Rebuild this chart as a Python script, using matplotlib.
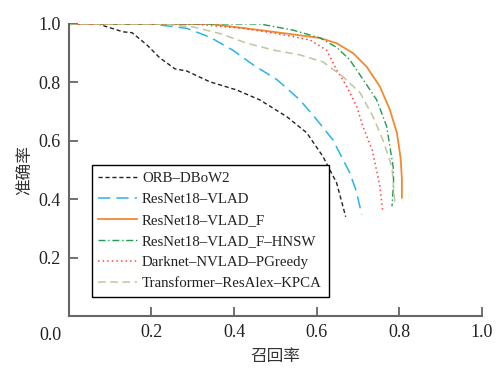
import matplotlib.pyplot as plt

plt.rcParams['font.family'] = ['Liberation Serif', 'Noto Sans CJK SC']

# recall (x) / precision (y)
orb_x = [0.0, 0.07, 0.131, 0.153, 0.189, 0.220, 0.257, 0.285, 0.341, 0.406, 0.462, 0.527, 0.576, 0.615, 0.648, 0.670]
orb_y = [1.0, 1.0, 0.973, 0.970, 0.928, 0.884, 0.846, 0.839, 0.802, 0.774, 0.740, 0.683, 0.627, 0.546, 0.456, 0.340]

vlad_x = [0.0, 0.20, 0.285, 0.341, 0.397, 0.446, 0.504, 0.559, 0.600, 0.639, 0.680, 0.695, 0.709]
vlad_y = [1.0, 1.0, 0.985, 0.955, 0.910, 0.860, 0.809, 0.740, 0.672, 0.603, 0.490, 0.430, 0.347]

vladf_x = [0.0, 0.341, 0.462, 0.608, 0.648, 0.688, 0.721, 0.753, 0.777, 0.794, 0.803, 0.806, 0.806]
vladf_y = [1.0, 1.0, 0.979, 0.952, 0.934, 0.900, 0.853, 0.785, 0.706, 0.627, 0.540, 0.470, 0.405]

hnsw_x = [0.0, 0.462, 0.542, 0.608, 0.648, 0.680, 0.712, 0.745, 0.769, 0.785, 0.786, 0.782]
hnsw_y = [1.0, 1.0, 0.979, 0.952, 0.920, 0.877, 0.810, 0.740, 0.650, 0.510, 0.456, 0.376]

dark_x = [0.0, 0.30, 0.421, 0.504, 0.584, 0.624, 0.648, 0.673, 0.697, 0.712, 0.734, 0.748, 0.753, 0.760]
dark_y = [1.0, 1.0, 0.985, 0.967, 0.945, 0.910, 0.843, 0.785, 0.716, 0.648, 0.569, 0.477, 0.440, 0.357]

kpca_x = [0.0, 0.22, 0.30, 0.366, 0.431, 0.494, 0.559, 0.615, 0.663, 0.705, 0.736, 0.760, 0.782, 0.789]
kpca_y = [1.0, 1.0, 0.99, 0.967, 0.934, 0.911, 0.894, 0.870, 0.820, 0.764, 0.683, 0.603, 0.510, 0.387]

labels = ['ORB\u2013DBoW2', 'ResNet18\u2013VLAD', 'ResNet18\u2013VLAD_F',
          'ResNet18\u2013VLAD_F\u2013HNSW', 'Darknet\u2013NVLAD\u2013PGreedy',
          'Transformer\u2013ResAlex\u2013KPCA']
ticks = [0.2, 0.4, 0.6, 0.8, 1.0]

fig = plt.figure(figsize=(4.99, 3.74), dpi=100)
ax = fig.add_axes([0.138, 0.155, 0.828, 0.781])

ax.plot(orb_x, orb_y, color='#222222', lw=1.0, ls=(0, (3, 2)), label=labels[0])
ax.plot(vlad_x, vlad_y, color='#29b3ee', lw=1.1, ls=(0, (8, 4)), label=labels[1])
ax.plot(vladf_x, vladf_y, color='#f28a2e', lw=1.3, ls='-', label=labels[2])
ax.plot(hnsw_x, hnsw_y, color='#1f9b4e', lw=1.0, ls=(0, (5, 2, 1, 2)), label=labels[3])
ax.plot(dark_x, dark_y, color='#ff4545', lw=1.1, ls=(0, (1, 2)), label=labels[4])
ax.plot(kpca_x, kpca_y, color='#bcc79c', lw=1.1, ls=(0, (5, 3)), label=labels[5])

ax.set_xlim(0, 1.0)
ax.set_ylim(0, 1.0)
ax.set_xticks([0.0] + ticks)
ax.set_xticklabels([''] + [f'{t:.1f}' for t in ticks])
ax.set_yticks([0.0] + ticks)
ax.set_yticklabels([''] + [f'{t:.1f}' for t in ticks])
ax.text(-0.017, -0.037, '0.0', transform=ax.transAxes, ha='right', va='top',
        fontsize=13, color='#222222')

for s in ['top', 'right']:
    ax.spines[s].set_visible(False)
for s in ['left', 'bottom']:
    ax.spines[s].set_color('#666666')
    ax.spines[s].set_linewidth(1.5)
ax.tick_params(direction='in', length=6.5, width=1.3, color='#666666',
               labelsize=13, labelcolor='#222222', pad=6)

ax.set_xlabel('召回率', family=['Noto Sans CJK SC'], fontsize=12, color='#333333', labelpad=5)
ax.set_ylabel('准确率', family=['Noto Sans CJK SC'], fontsize=12, color='#333333', labelpad=3)

leg = ax.legend(loc='lower left', bbox_to_anchor=(0.055, 0.065), fontsize=10.7,
                frameon=True, fancybox=False, edgecolor='black', framealpha=1,
                handlelength=2.6, handletextpad=0.35, borderpad=0.45, labelspacing=0.52,
                borderaxespad=0)
leg.get_frame().set_linewidth(1.0)
for t in leg.get_texts():
    t.set_color('#222222')

fig.savefig('out.png', dpi=100)
